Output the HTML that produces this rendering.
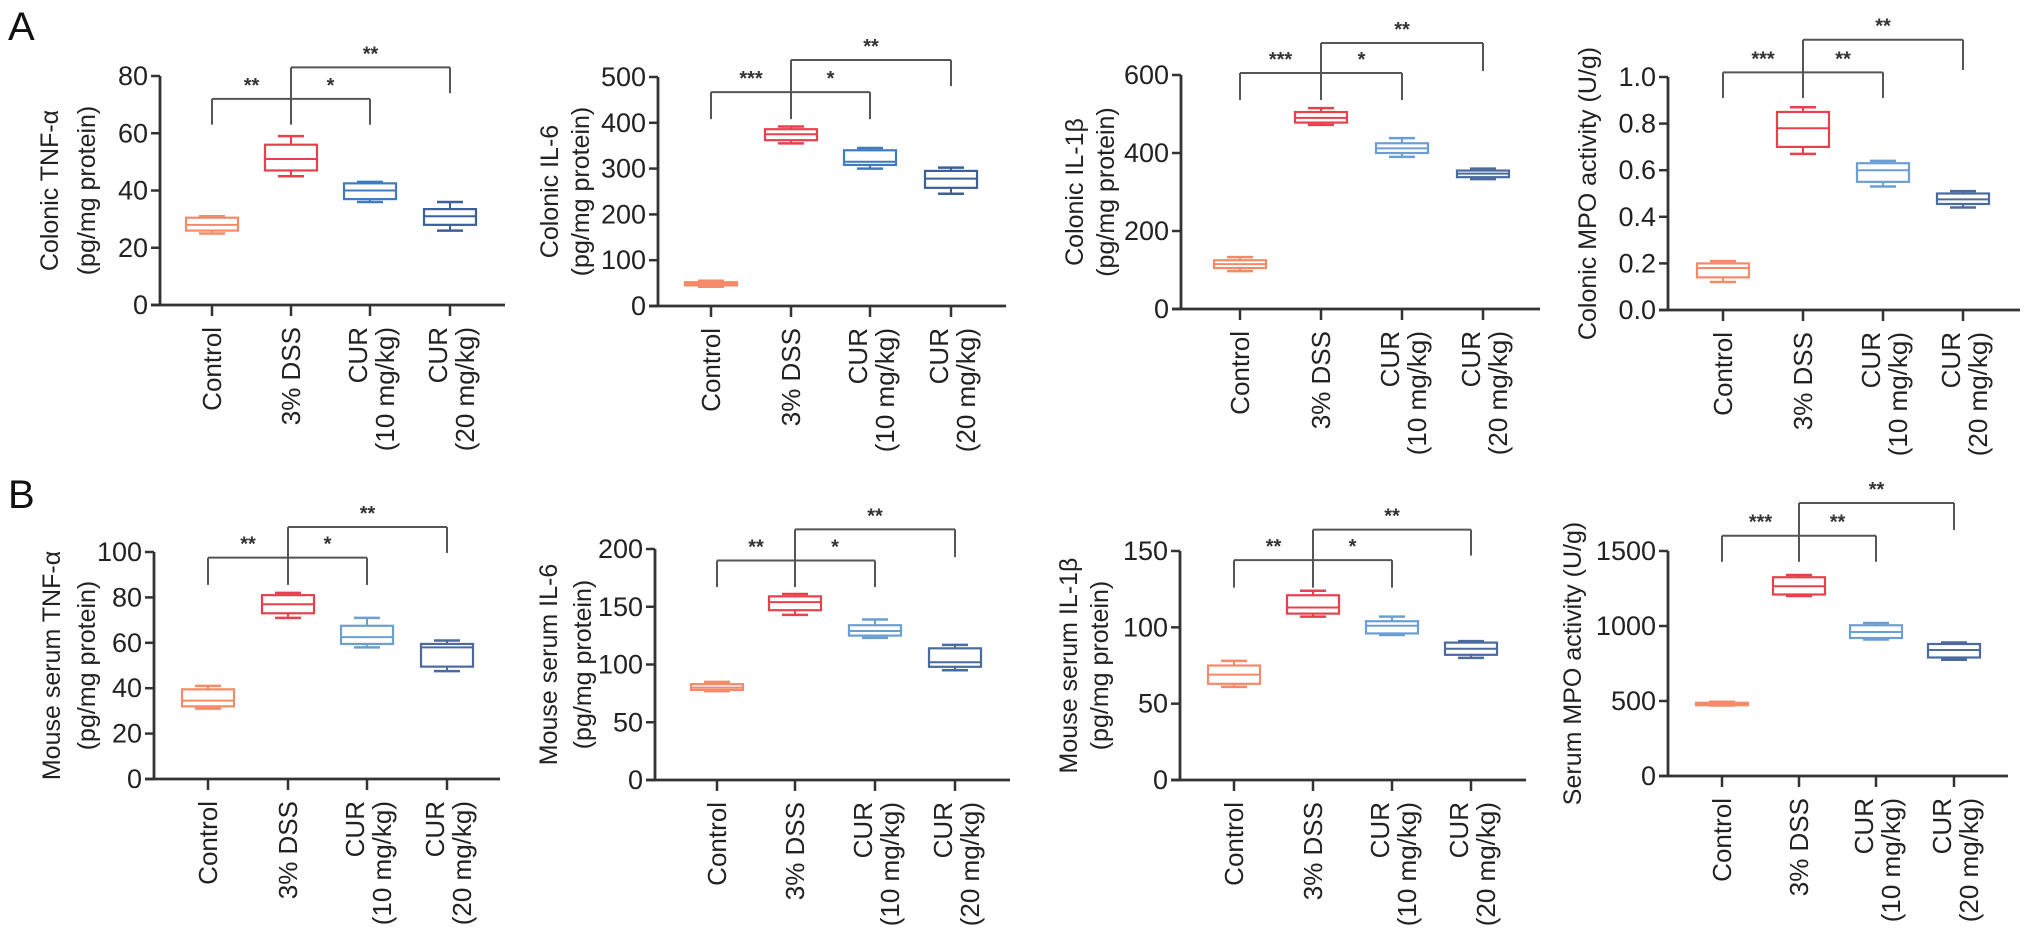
<!DOCTYPE html>
<html><head><meta charset="utf-8">
<style>
html,body{margin:0;padding:0;background:#fff;}
svg{display:block;font-family:"Liberation Sans",Arial,sans-serif;}
</style></head>
<body>
<svg id="fig" width="2032" height="933" viewBox="0 0 2032 933" xmlns="http://www.w3.org/2000/svg">
<text x="8" y="40" font-size="40" fill="#111">A</text>
<text x="8" y="508" font-size="40" fill="#111">B</text>
</svg>
<script>
// ---------- data ----------
const categories = ["Control","3% DSS","CUR|(10 mg/kg)","CUR|(20 mg/kg)"];
// each panel: min, q1, median, q3, max per group
const a1Min=[25,45,36,26], a1Q1=[26,47,37,28], a1Med=[28,51,40,31], a1Q3=[30.5,56,42.5,33.5], a1Max=[31,59,43,36];
const a2Min=[42,355,300,245], a2Q1=[45,362,308,258], a2Med=[48,375,315,278], a2Q3=[52,386,340,295], a2Max=[55,392,345,302];
const a3Min=[97,472,390,333], a3Q1=[105,478,400,338], a3Med=[115,490,412,347], a3Q3=[125,505,425,355], a3Max=[133,515,438,360];
const a4Min=[0.12,0.67,0.53,0.44], a4Q1=[0.14,0.70,0.55,0.455], a4Med=[0.18,0.78,0.60,0.475], a4Q3=[0.20,0.85,0.63,0.50], a4Max=[0.21,0.87,0.64,0.51];
const b1Min=[31,71,58,47.5], b1Q1=[32,73,59.5,49.5], b1Med=[34.5,77,62.5,58], b1Q3=[39.5,81,67.5,59.5], b1Max=[41,82,71,61];
const b2Min=[77,143,123,95], b2Q1=[78,147,125,98], b2Med=[80,154,129,102], b2Q3=[83,159,134,114], b2Max=[85,161,139,117];
const b3Min=[61,107,95,80], b3Q1=[63,109,96,82], b3Med=[69,113,101,86], b3Q3=[75,121,104,90], b3Max=[78,124,107,91];
const b4Min=[470,1200,910,775], b4Q1=[472,1210,920,790], b4Med=[480,1265,960,840], b4Q3=[488,1325,1005,880], b4Max=[495,1340,1020,890];
// y-axis ticks
const a1Ticks=[0,20,40,60,80], a2Ticks=[0,100,200,300,400,500], a3Ticks=[0,200,400,600], a4Ticks=[0,0.2,0.4,0.6,0.8,1.0];
const b1Ticks=[0,20,40,60,80,100], b2Ticks=[0,50,100,150,200], b3Ticks=[0,50,100,150], b4Ticks=[0,500,1000,1500];
// significance brackets: [lowerBar, lowerLegEnd, upperBar, upperLegEnd]
const a1Sig=[72,63,83,74], a2Sig=[467,408,537,480], a3Sig=[605,536,682,610], a4Sig=[1.02,0.91,1.16,1.03];
const b1Sig=[97.5,85.5,111,99.6], b2Sig=[190,167,217,193], b3Sig=[144,126,164,147], b4Sig=[1602,1428,1820,1640];
const a1Stars=["**","*","**"], a2Stars=["***","*","**"], a3Stars=["***","*","**"], a4Stars=["***","**","**"];
const b1Stars=["**","*","**"], b2Stars=["**","*","**"], b3Stars=["**","*","**"], b4Stars=["***","**","**"];

const colorsA=["#f58a6a","#e8404e","#3f7cbf","#3d5f9a"];
const colorsB=["#f58a6a","#e8404e","#6b9fd4","#4b6a9e"];

const panels=[
 {id:"a1",mn:a1Min,q1:a1Q1,md:a1Med,q3:a1Q3,mx:a1Max,ticks:a1Ticks,sig:a1Sig,stars:a1Stars,dec:0,col:colorsA,
  ax:160,y0:305,yTop:76,xs:[212,291,370,450],xEnd:505,title:["Colonic TNF-α","(pg/mg protein)"],tx:[-110,-73]},
 {id:"a2",mn:a2Min,q1:a2Q1,md:a2Med,q3:a2Q3,mx:a2Max,ticks:a2Ticks,sig:a2Sig,stars:a2Stars,dec:0,col:colorsA,
  ax:658,y0:306,yTop:77,xs:[711,791,870,951],xEnd:1006,title:["Colonic IL-6","(pg/mg protein)"],tx:[-108,-77]},
 {id:"a3",mn:a3Min,q1:a3Q1,md:a3Med,q3:a3Q3,mx:a3Max,ticks:a3Ticks,sig:a3Sig,stars:a3Stars,dec:0,col:colorsB,
  ax:1181,y0:309,yTop:75,xs:[1240,1321,1402,1483],xEnd:1540,title:["Colonic IL-1β","(pg/mg protein)"],tx:[-106,-75]},
 {id:"a4",mn:a4Min,q1:a4Q1,md:a4Med,q3:a4Q3,mx:a4Max,ticks:a4Ticks,sig:a4Sig,stars:a4Stars,dec:1,col:colorsB,
  ax:1668,y0:310,yTop:77,xs:[1723,1803,1883,1963],xEnd:2020,title:["Colonic MPO activity (U/g)"],tx:[-80]},
 {id:"b1",mn:b1Min,q1:b1Q1,md:b1Med,q3:b1Q3,mx:b1Max,ticks:b1Ticks,sig:b1Sig,stars:b1Stars,dec:0,col:colorsB,
  ax:154,y0:779,yTop:552,xs:[208,288,367,447],xEnd:500,title:["Mouse serum TNF-α","(pg/mg protein)"],tx:[-102,-67]},
 {id:"b2",mn:b2Min,q1:b2Q1,md:b2Med,q3:b2Q3,mx:b2Max,ticks:b2Ticks,sig:b2Sig,stars:b2Stars,dec:0,col:colorsB,
  ax:655,y0:780,yTop:549,xs:[717,795,875,955],xEnd:1010,title:["Mouse serum IL-6","(pg/mg protein)"],tx:[-106,-72]},
 {id:"b3",mn:b3Min,q1:b3Q1,md:b3Med,q3:b3Q3,mx:b3Max,ticks:b3Ticks,sig:b3Sig,stars:b3Stars,dec:0,col:colorsB,
  ax:1180,y0:780,yTop:551,xs:[1234,1313,1392,1471],xEnd:1526,title:["Mouse serum IL-1β","(pg/mg protein)"],tx:[-111,-80]},
 {id:"b4",mn:b4Min,q1:b4Q1,md:b4Med,q3:b4Q3,mx:b4Max,ticks:b4Ticks,sig:b4Sig,stars:b4Stars,dec:0,col:colorsB,
  ax:1668,y0:776,yTop:551,xs:[1722,1799,1876,1954],xEnd:2008,title:["Serum MPO activity (U/g)"],tx:[-95]}
];

const NS="http://www.w3.org/2000/svg";
const svg=document.getElementById("fig");
function mk(tag,attrs,parent){const e=document.createElementNS(NS,tag);for(const k in attrs)e.setAttribute(k,attrs[k]);(parent||svg).appendChild(e);return e;}
function line(g,x1,y1,x2,y2,stroke,w,name){const l=mk("line",{x1,y1,x2,y2,stroke,"stroke-width":w},g);
 
 
 return l;}

panels.forEach(p=>{
 const g=mk("g",{});
 
 
 const tmax=p.ticks[p.ticks.length-1];
 const y=v=>p.y0-(v/tmax)*(p.y0-p.yTop);
 const axc="#333";
 line(g,p.ax,p.yTop,p.ax,p.y0,axc,2.8,"y-axis");
 line(g,p.ax-9,p.y0,p.xEnd,p.y0,axc,2.8,"x-axis");
 p.ticks.forEach(t=>{
  line(g,p.ax-9,y(t),p.ax,y(t),axc,2.5,"y-tick");
  const tl=mk("text",{x:p.ax-12,y:y(t)+9,"font-size":27,"text-anchor":"end",fill:"#222"},g);
  tl.textContent=t.toFixed(p.dec);
  
  
 });
 const cy=(p.y0+p.yTop)/2;
 p.title.forEach((s,i)=>{
  const tx=p.ax+p.tx[i];
  const t=mk("text",{x:tx,y:cy,"font-size":25,"text-anchor":"middle","dominant-baseline":"central",fill:"#222",transform:`rotate(-90 ${tx} ${cy})`},g);
  t.textContent=s;
  
  
 });
 p.xs.forEach((cx,i)=>{
  line(g,cx,p.y0,cx,p.y0+11,axc,2.5,"x-tick");
  const parts=categories[i].split("|");
  const ly=p.y0+22;
  if(parts.length===1){
   const t=mk("text",{x:cx+9,y:ly,"font-size":26,"text-anchor":"end",fill:"#222",transform:`rotate(-90 ${cx+9} ${ly})`},g);
   t.textContent=parts[0];
   
   
  } else {
   [[parts[0],cx-3],[parts[1],cx+24]].forEach(([s,bx])=>{
    const t=mk("text",{x:bx,y:ly,"font-size":26,"text-anchor":"end",fill:"#222",transform:`rotate(-90 ${bx} ${ly})`},g);
    t.textContent=s;
    
    
   });
  }
  const c=p.col[i], bw=52, cw=26;
  const bg=mk("g",{},g);
  
  
  line(bg,cx,y(p.mx[i]),cx,y(p.q3[i]),c,2,"whisker-upper");
  line(bg,cx,y(p.q1[i]),cx,y(p.mn[i]),c,2,"whisker-lower");
  line(bg,cx-cw/2,y(p.mx[i]),cx+cw/2,y(p.mx[i]),c,2.5,"whisker-cap-max");
  line(bg,cx-cw/2,y(p.mn[i]),cx+cw/2,y(p.mn[i]),c,2.5,"whisker-cap-min");
  const r=mk("rect",{x:cx-bw/2,y:y(p.q3[i]),width:bw,height:Math.max(1,y(p.q1[i])-y(p.q3[i])),fill:"none",stroke:c,"stroke-width":2.2},bg);
  
  
  line(bg,cx-bw/2,y(p.md[i]),cx+bw/2,y(p.md[i]),c,2,"median-line");
 });
 const s=p.sig, bc="#555", x0=p.xs[0], x1=p.xs[1], x2=p.xs[2], x3=p.xs[3];
 line(g,x0,y(s[0]),x2,y(s[0]),bc,2,"sig-bracket-lower");
 line(g,x0,y(s[0]),x0,y(s[1]),bc,2,"sig-leg");
 line(g,x1,y(s[2]),x1,y(s[1]),bc,2,"sig-leg");
 line(g,x2,y(s[0]),x2,y(s[1]),bc,2,"sig-leg");
 line(g,x1,y(s[2]),x3,y(s[2]),bc,2,"sig-bracket-upper");
 line(g,x3,y(s[2]),x3,y(s[3]),bc,2,"sig-leg");
 [[(x0+x1)/2,s[0]],[(x1+x2)/2,s[0]],[(x1+x3)/2,s[2]]].forEach(([sx,sv],k)=>{
  const t=mk("text",{x:sx,y:y(sv)-7,"font-size":20,"font-weight":"bold","text-anchor":"middle",fill:"#333"},g);
  t.textContent=p.stars[k];
  
  
 });
});
</script>
</body></html>
